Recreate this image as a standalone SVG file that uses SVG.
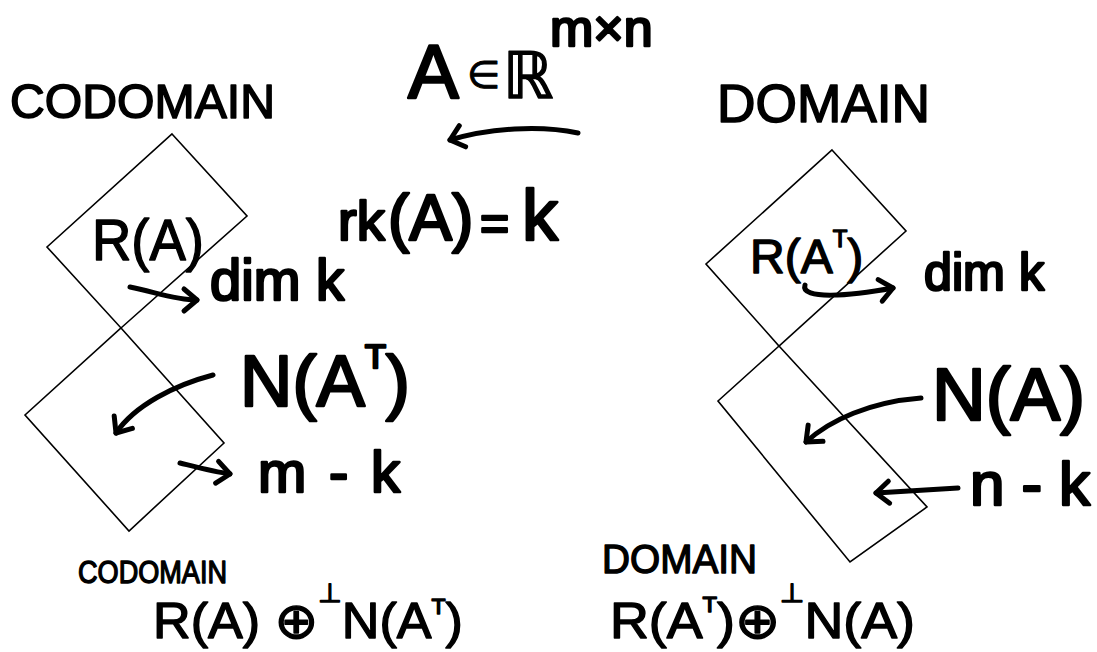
<svg xmlns="http://www.w3.org/2000/svg" width="1097" height="652" viewBox="0 0 1097 652">
<style>
.bg{fill:#fff}
.box{fill:none;stroke:#000;stroke-width:1.6;stroke-linejoin:miter}
.lbl{font-family:"Liberation Sans","DejaVu Sans",sans-serif;fill:#000;stroke:#000;stroke-width:1.6;stroke-linejoin:round}
.m{font-family:"Liberation Sans","DejaVu Sans",sans-serif;fill:#000;stroke:#000;stroke-width:2.6;stroke-linejoin:round}
.s{font-family:"Liberation Sans","DejaVu Sans",sans-serif;fill:#000;stroke:#000;stroke-width:1.4;stroke-linejoin:round}
.arr{fill:none;stroke:#000;stroke-width:5;stroke-linecap:round;stroke-linejoin:round;marker-end:url(#ah)}
</style>
<defs>
<marker id="ah" viewBox="-20 -15 25 30" markerWidth="25" markerHeight="30" refX="0" refY="0" orient="auto" markerUnits="userSpaceOnUse">
<path d="M-13,-11 L0,0 L-13,11" fill="none" stroke="#000" stroke-width="5" stroke-linecap="round" stroke-linejoin="round"/>
</marker>
</defs>
<rect class="bg" x="0" y="0" width="1097" height="652"/>

<g id="title">
<text class="m" x="408" y="98"><tspan font-size="76">A</tspan><tspan x="467" y="88" font-size="38" stroke-width="1">∈</tspan><tspan x="503" y="98" font-size="64" stroke-width="1.5">ℝ</tspan><tspan x="550" y="46" font-size="52">m×n</tspan></text>
</g>

<g id="rank">
<text class="m" x="338" y="240"><tspan font-size="56">rk</tspan><tspan x="388" font-size="64">(A)</tspan><tspan x="480" font-size="50">=</tspan><tspan x="522" font-size="72">k</tspan></text>
</g>

<g id="codomain-label">
<text class="lbl" x="10" y="118" font-size="49" textLength="265" lengthAdjust="spacingAndGlyphs">CODOMAIN</text>
</g>
<g id="domain-label">
<text class="lbl" x="717" y="122" font-size="53" textLength="213" lengthAdjust="spacingAndGlyphs">DOMAIN</text>
</g>

<g id="range-A">
<polygon class="box" points="172,134 247,216 121,328 47,247"/>
<text class="s" x="92" y="260" font-size="58" textLength="112" lengthAdjust="spacingAndGlyphs">R(A)</text>
</g>
<g id="null-AT">
<polygon class="box" points="121,328 224,443 129,531 25,415"/>
</g>
<g id="range-AT">
<polygon class="box" points="832,150 906,231 779,346 706,264"/>
<text class="s" x="750" y="273" font-size="48">R(A<tspan font-size="24" dy="-26">T</tspan><tspan dy="26">)</tspan></text>
</g>
<g id="null-A">
<polygon class="box" points="779,346 927,507 850,562 718,401"/>
</g>

<g id="dim-left"><text class="m" x="210" y="300" font-size="57" textLength="134" lengthAdjust="spacingAndGlyphs">dim k</text></g>
<g id="NAT-left"><text class="m" x="240" y="406" font-size="72" textLength="170" lengthAdjust="spacingAndGlyphs">N(A<tspan font-size="34" dy="-38">T</tspan><tspan dy="38">)</tspan></text></g>
<g id="mk-left"><text class="m" x="258" y="492" font-size="58" textLength="142" lengthAdjust="spacing">m-k</text></g>

<g id="dim-right"><text class="m" x="924" y="290" font-size="52" textLength="120" lengthAdjust="spacingAndGlyphs">dim k</text></g>
<g id="NA-right"><text class="m" x="932" y="420" font-size="74" textLength="153" lengthAdjust="spacingAndGlyphs">N(A)</text></g>
<g id="nk-right"><text class="m" x="970" y="505" font-size="62" textLength="120" lengthAdjust="spacing">n-k</text></g>

<g id="codomain-sum">
<text class="s" x="78" y="583" font-size="32" textLength="149" lengthAdjust="spacingAndGlyphs">CODOMAIN</text>
<text class="s" x="153" y="638" font-size="50" textLength="310" lengthAdjust="spacingAndGlyphs">R(A) ⊕<tspan font-size="26" dy="-36">⊥</tspan><tspan dy="36">N(A</tspan><tspan font-size="22" dy="-24">T</tspan><tspan dy="24">)</tspan></text>
</g>
<g id="domain-sum">
<text class="s" x="602" y="573" font-size="40" textLength="155" lengthAdjust="spacingAndGlyphs">DOMAIN</text>
<text class="s" x="610" y="638" font-size="50" textLength="305" lengthAdjust="spacingAndGlyphs">R(A<tspan font-size="22" dy="-26">T</tspan><tspan dy="26">)⊕</tspan><tspan font-size="26" dy="-36">⊥</tspan><tspan dy="36">N(A)</tspan></text>
</g>

<g id="connectors">
<path class="arr" d="M578,133 C540,125 490,128 450,140"/>
<path class="arr" d="M130,287 C155,292 175,300 197,300"/>
<path class="arr" d="M213,375 C175,385 135,405 116,433"/>
<path class="arr" d="M180,463 C200,468 215,472 230,474"/>
<path class="arr" d="M805,285 C800,300 850,296 893,288"/>
<path class="arr" d="M921,398 C870,402 830,420 806,442"/>
<path class="arr" d="M958,488 L876,493"/>
</g>
</svg>
